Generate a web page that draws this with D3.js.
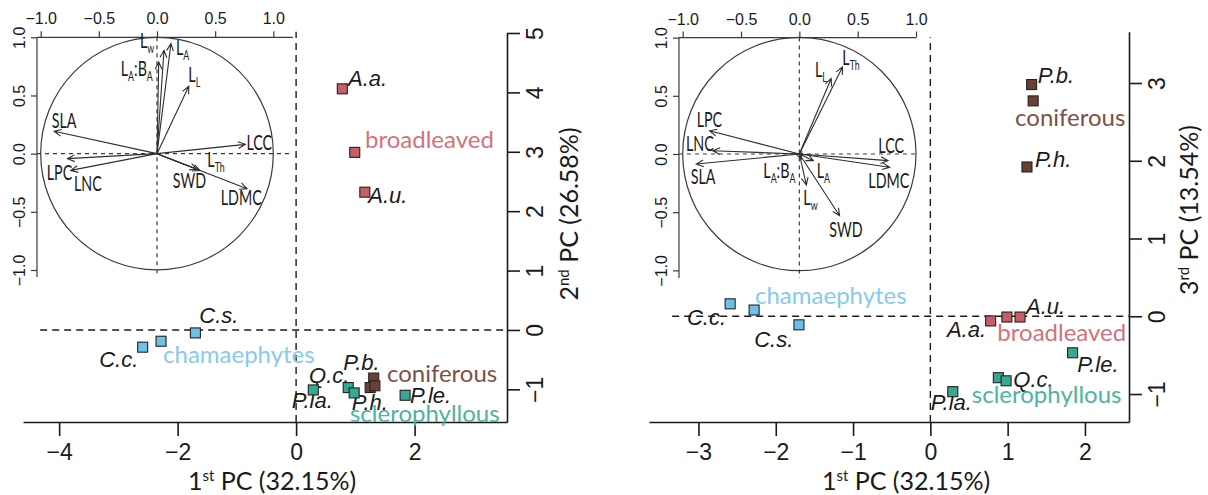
<!DOCTYPE html>
<html>
<head>
<meta charset="utf-8">
<script src="https://cdn.jsdelivr.net/npm/d3@7"></script>
<style>
  body { margin: 0; background: #fff; }
  svg { display: block; }
  .tick text { font-family: "Liberation Sans", Arial, sans-serif; }
</style>
</head>
<body>
<svg id="chart" width="1208" height="495"></svg>
<script>
// ---- species scores on the first three principal components ----
const speciesNames = ["A.a.", "A.u.", "C.c.", "C.s.", "P.b.", "P.h.", "P.la.", "Q.c.", "P.le."];
const speciesGroup = ["broadleaved", "broadleaved", "chamaephytes", "chamaephytes",
                      "coniferous", "coniferous", "sclerophyllous", "sclerophyllous", "sclerophyllous"];
const speciesPC1 = [0.78, 1.16, -2.59, -1.70, 1.31, 1.25, 0.29, 0.88, 1.84];
const speciesPC2 = [4.06, 2.32, -0.29, -0.05, -0.81, -0.97, -1.01, -0.97, -1.10];
const speciesPC3 = [-0.06, -0.01, 0.16, -0.11, 2.98, 1.92, -0.97, -0.79, -0.47];

// ---- group centroids ----
const groupNames = ["broadleaved", "chamaephytes", "coniferous", "sclerophyllous"];
const groupPC1 = [0.99, -2.28, 1.33, 0.98];
const groupPC2 = [2.99, -0.19, -0.94, -1.06];
const groupPC3 = [-0.01, 0.08, 2.77, -0.83];

// ---- trait loadings (correlation circle) ----
const traitNames = ["SLA", "LPC", "LNC", "LCC", "LDMC", "SWD", "L_Th", "L_L", "L_A", "L_w", "L_A:B_A"];
const loadPC1 = [-0.884, -0.770, -0.742, 0.760, 0.774, 0.345, 0.370, 0.273, 0.120, 0.060, 0.015];
const loadPC2 = [0.192, -0.043, -0.144, 0.080, -0.301, -0.135, -0.145, 0.579, 0.946, 0.888, 0.788];
const loadPC3 = [-0.086, 0.200, 0.028, -0.057, -0.114, -0.530, 0.748, 0.649, -0.057, -0.266, -0.045];

// ---- axis ticks and titles ----
const xTicksA = [-4, -2, 0, 2];
const yTicksA = [-1, 0, 1, 2, 3, 4, 5];
const xTicksB = [-3, -2, -1, 0, 1, 2];
const yTicksB = [-1, 0, 1, 2, 3];
const loadTicks = [-1, -0.5, 0, 0.5, 1];
const pcNumber = ["1", "2", "3"];
const pcSuffix = ["st", "nd", "rd"];
const pcVariance = ["32.15%", "26.58%", "13.54%"];

const groupFill = {
  broadleaved: "#c85c68", chamaephytes: "#6dc0ea",
  coniferous: "#6b4034", sclerophyllous: "#36a894"
};
const groupInk = {
  broadleaved: "#d4717e", chamaephytes: "#88caea",
  coniferous: "#7d5145", sclerophyllous: "#4eb3a0"
};

const INK = "#1a1a1a";
const minus = s => String(s).replace("-", "\u2212");
const svg = d3.select("#chart");

// label placement (pixel offsets from the mark, anchor)
const layoutA = {
  species: {
    "A.a.": [5.7, -2.8, "start"], "A.u.": [3.5, 10.5, "start"], "C.c.": [-4.4, 20.1, "end"],
    "C.s.": [3.9, -9.7, "start"], "P.b.": [-30.4, -8.1, "start"], "P.h.": [-18.5, 22.4, "start"],
    "P.la.": [-21.6, 18.3, "start"], "Q.c.": [1.2, -4.3, "end"], "P.le.": [4.9, 8, "start"]
  },
  groups: {
    broadleaved: [10.3, -4.1, "start"], chamaephytes: [2, 22.1, "start"],
    coniferous: [12, -3.8, "start"], sclerophyllous: [-4.2, 28.8, "start"]
  },
  traits: {
    "SLA": [-2.5, -3.6], "LPC": [-20.7, 21.4], "LNC": [3.3, 20.3], "LCC": [1, 6],
    "LDMC": [-26.3, 16.3], "SWD": [-24.4, 18.9], "L_Th": [7.3, -3.8], "L_L": [-0.4, -4.6],
    "L_A": [5, 11.4], "L_w": [-24, -2], "L_A:B_A": [-38, 14]
  }
};
const layoutB = {
  species: {
    "A.a.": [-4.6, 16.4, "end"], "A.u.": [6, -3, "start"], "C.c.": [-4.1, 21.2, "end"],
    "C.s.": [-5.6, 21.9, "end"], "P.b.": [6.2, -1.3, "start"], "P.h.": [8.1, -0.3, "start"],
    "P.la.": [-22, 18.3, "start"], "Q.c.": [15, 9, "start"], "P.le.": [4.8, 18.9, "start"]
  },
  groups: {
    broadleaved: [-9.5, 23.7, "start"], chamaephytes: [0.9, -5.7, "start"],
    coniferous: [-18.1, 25.1, "start"], sclerophyllous: [-34.3, 21.9, "start"]
  },
  traits: {
    "SLA": [-5.5, 20], "LPC": [-12.8, -4], "LNC": [-26.8, 0], "LCC": [-9.7, -7.3],
    "LDMC": [-21.3, 21], "SWD": [-10.3, 21.6], "L_Th": [-0.2, -1.9], "L_L": [-16.2, -1.8],
    "L_A": [3.4, 17.7], "L_w": [-3, 20], "L_A:B_A": [-37.8, 19.1]
  }
};

function drawTitle(g, x, y, rotated, k) {
  const t = g.append("text")
    .attr("transform", `translate(${x},${y})` + (rotated ? " rotate(-90)" : ""))
    .attr("text-anchor", "middle")
    .attr("font-family", "Lato, 'Open Sans', sans-serif")
    .attr("font-size", 25)
    .attr("fill", INK);
  t.append("tspan").text(pcNumber[k]);
  t.append("tspan").attr("font-size", 15).attr("dy", -9).text(pcSuffix[k]);
  t.append("tspan").attr("dy", 9).text(` PC (${pcVariance[k]})`);
}

function drawPanel(cfg) {
  const g = svg.append("g");
  const x = d3.scaleLinear().domain(cfg.xDomain).range(cfg.xRange);
  const y = d3.scaleLinear().domain(cfg.yDomain).range(cfg.yRange);
  const sx = speciesPC1, sy = cfg.speciesY, cx = groupPC1, cy = cfg.groupY;

  // reference lines through the origin
  g.append("line")
    .attr("x1", x(cfg.hGuide[0])).attr("x2", x(cfg.hGuide[1]))
    .attr("y1", y(0)).attr("y2", y(0))
    .attr("stroke", INK).attr("stroke-width", 1.4).attr("stroke-dasharray", "7,5");
  g.append("line")
    .attr("x1", x(0)).attr("x2", x(0))
    .attr("y1", y(cfg.vGuide[0])).attr("y2", y(cfg.vGuide[1]))
    .attr("stroke", INK).attr("stroke-width", 1.4).attr("stroke-dasharray", "7,5");

  // bottom axis
  const gx = g.append("g").attr("transform", `translate(0,${cfg.yRange[0]})`)
    .call(d3.axisBottom(x).tickValues(cfg.xTicks).tickSize(14).tickSizeOuter(0).tickFormat(minus));
  gx.select(".domain").attr("stroke", INK).attr("stroke-width", 1.6);
  gx.selectAll(".tick line").attr("stroke", INK).attr("stroke-width", 1.6);
  gx.selectAll(".tick text").attr("y", 38).attr("dy", 0).attr("font-size", 23).attr("fill", INK);

  // right axis
  const gy = g.append("g").attr("transform", `translate(${cfg.xRange[1]},0)`)
    .call(d3.axisRight(y).tickValues(cfg.yTicks).tickSize(13).tickSizeOuter(0).tickFormat(minus));
  gy.select(".domain").attr("stroke", INK).attr("stroke-width", 1.6);
  gy.selectAll(".tick line").attr("stroke", INK).attr("stroke-width", 1.6);
  gy.selectAll(".tick text")
    .attr("x", null).attr("dy", null)
    .attr("transform", "translate(36,0) rotate(-90)")
    .attr("text-anchor", "middle").attr("font-size", 23).attr("fill", INK);

  drawTitle(g, cfg.xTitle[0], cfg.xTitle[1], false, 0);
  drawTitle(g, cfg.yTitle[0], cfg.yTitle[1], true, cfg.yPC);

  drawInset(g, cfg.inset, cfg.lay.traits);

  // species labels
  speciesNames.forEach((name, i) => {
    const o = cfg.lay.species[name];
    g.append("text")
      .attr("x", x(sx[i]) + o[0]).attr("y", y(sy[i]) + o[1])
      .attr("text-anchor", o[2])
      .attr("font-family", "'Liberation Sans', Arial, sans-serif")
      .attr("font-style", "italic").attr("font-size", 22)
      .attr("fill", INK).text(name);
  });
  // group labels
  groupNames.forEach((name, i) => {
    const o = cfg.lay.groups[name];
    g.append("text")
      .attr("x", x(cx[i]) + o[0]).attr("y", y(cy[i]) + o[1])
      .attr("text-anchor", o[2])
      .attr("font-family", "Lato, 'Open Sans', sans-serif")
      .attr("font-size", 24).attr("fill", groupInk[name]).text(name);
  });

  // species squares, then centroids
  const S = 10;
  g.selectAll(".sp").data(speciesNames).enter().append("rect")
    .attr("x", (d, i) => x(sx[i]) - S / 2).attr("y", (d, i) => y(sy[i]) - S / 2)
    .attr("width", S).attr("height", S)
    .attr("fill", (d, i) => groupFill[speciesGroup[i]])
    .attr("stroke", "#222").attr("stroke-width", 1.1);
  g.selectAll(".gc").data(groupNames).enter().append("rect")
    .attr("x", (d, i) => x(cx[i]) - S / 2).attr("y", (d, i) => y(cy[i]) - S / 2)
    .attr("width", S).attr("height", S)
    .attr("fill", d => groupFill[d])
    .attr("stroke", "#222").attr("stroke-width", 1.1);
}

function drawInset(parent, ic, lay) {
  const g = parent.append("g");
  const x = d3.scaleLinear().domain([-1, 1]).range(ic.xRange);
  const y = d3.scaleLinear().domain([-1, 1]).range(ic.yRange);
  const line = "#3a3a3a";

  // frame: top and left axes
  const gt = g.append("g").attr("transform", `translate(0,${y(1)})`)
    .call(d3.axisTop(x).tickValues(loadTicks).tickSize(6).tickSizeOuter(0)
      .tickFormat(d => minus(d3.format(".1f")(d))));
  gt.select(".domain").attr("d", `M${x(ic.frameX[0])},0H${x(ic.frameX[1])}`)
    .attr("stroke", line).attr("stroke-width", 1.2);
  gt.selectAll(".tick line").attr("stroke", line).attr("stroke-width", 1.2);
  gt.selectAll(".tick text").attr("font-size", 16).attr("fill", INK).attr("y", -13).attr("dy", 0);

  const gl = g.append("g").attr("transform", `translate(${x(ic.frameX[0])},0)`)
    .call(d3.axisLeft(y).tickValues(loadTicks).tickSize(6).tickSizeOuter(0)
      .tickFormat(d => minus(d3.format(".1f")(d))));
  gl.select(".domain").attr("d", `M0,${y(1)}V${y(ic.frameY)}`)
    .attr("stroke", line).attr("stroke-width", 1.2);
  gl.selectAll(".tick line").attr("stroke", line).attr("stroke-width", 1.2);
  gl.selectAll(".tick text")
    .attr("x", null).attr("dy", null)
    .attr("transform", "translate(-12,0) rotate(-90)")
    .attr("text-anchor", "middle").attr("font-size", 16).attr("fill", INK);

  // unit circle
  g.append("circle")
    .attr("cx", x(0)).attr("cy", y(0)).attr("r", x(1) - x(0))
    .attr("fill", "none").attr("stroke", line).attr("stroke-width", 1.2);

  // axes through the origin
  g.append("line").attr("x1", x(ic.frameX[0])).attr("x2", x(ic.frameX[1]))
    .attr("y1", y(0)).attr("y2", y(0))
    .attr("stroke", line).attr("stroke-width", 1.2).attr("stroke-dasharray", "4,4");
  g.append("line").attr("x1", x(0)).attr("x2", x(0))
    .attr("y1", y(1)).attr("y2", y(ic.frameY))
    .attr("stroke", line).attr("stroke-width", 1.2).attr("stroke-dasharray", "4,4");

  // loading arrows
  const hl = 8, ha = 25 * Math.PI / 180;
  traitNames.forEach((name, i) => {
    const x0 = x(0), y0 = y(0), x1 = x(loadPC1[i]), y1 = y(ic.loadY[i]);
    const ang = Math.atan2(y1 - y0, x1 - x0);
    const p1 = [x1 - hl * Math.cos(ang - ha), y1 - hl * Math.sin(ang - ha)];
    const p2 = [x1 - hl * Math.cos(ang + ha), y1 - hl * Math.sin(ang + ha)];
    g.append("path")
      .attr("d", `M${x0},${y0}L${x1},${y1}M${p1[0]},${p1[1]}L${x1},${y1}L${p2[0]},${p2[1]}`)
      .attr("fill", "none").attr("stroke", "#2e2e2e").attr("stroke-width", 1.1);

    // label, condensed, with subscripts after "_"
    const o = lay[name];
    const t = g.append("text")
      .attr("transform", `translate(${x1 + o[0]},${y1 + o[1]}) scale(0.68,1)`)
      .attr("font-family", "Lato, 'Open Sans', sans-serif")
      .attr("font-size", 21).attr("fill", INK);
    let sub = false;
    name.split(/(_[A-Za-z]+)/).filter(s => s.length).forEach(part => {
      if (part.startsWith("_")) {
        t.append("tspan").attr("font-size", 13).attr("dy", 5).text(part.slice(1));
        sub = true;
      } else {
        const ts = t.append("tspan").text(part);
        if (sub) { ts.attr("dy", -5); sub = false; }
      }
    });
  });
}

drawPanel({
  xDomain: [-4.61, 3.56], xRange: [23, 507],
  yDomain: [-1.55, 5.0], yRange: [422, 33],
  xTicks: xTicksA, yTicks: yTicksA,
  speciesY: speciesPC2, groupY: groupPC2, yPC: 1,
  hGuide: [-4.32, 3.56], vGuide: [-1.55, 5.02],
  xTitle: [272, 490], yTitle: [578, 214],
  lay: layoutA,
  inset: { xRange: [40.7, 273.3], yRange: [270, 37.3], frameX: [-1.032, 1.169], frameY: -1.06, loadY: loadPC2 }
});

drawPanel({
  xDomain: [-3.64, 2.57], xRange: [649, 1129],
  yDomain: [-1.36, 3.66], yRange: [422, 31.7],
  xTicks: xTicksB, yTicks: yTicksB,
  speciesY: speciesPC3, groupY: groupPC3, yPC: 2,
  hGuide: [-3.34, 2.57], vGuide: [-1.36, 3.59],
  xTitle: [906, 490], yTitle: [1198, 210],
  lay: layoutB,
  inset: { xRange: [682.7, 916], yRange: [270.4, 37.6], frameX: [-1.032, 1.0], frameY: -1.065, loadY: loadPC3 }
});
</script>
</body>
</html>
